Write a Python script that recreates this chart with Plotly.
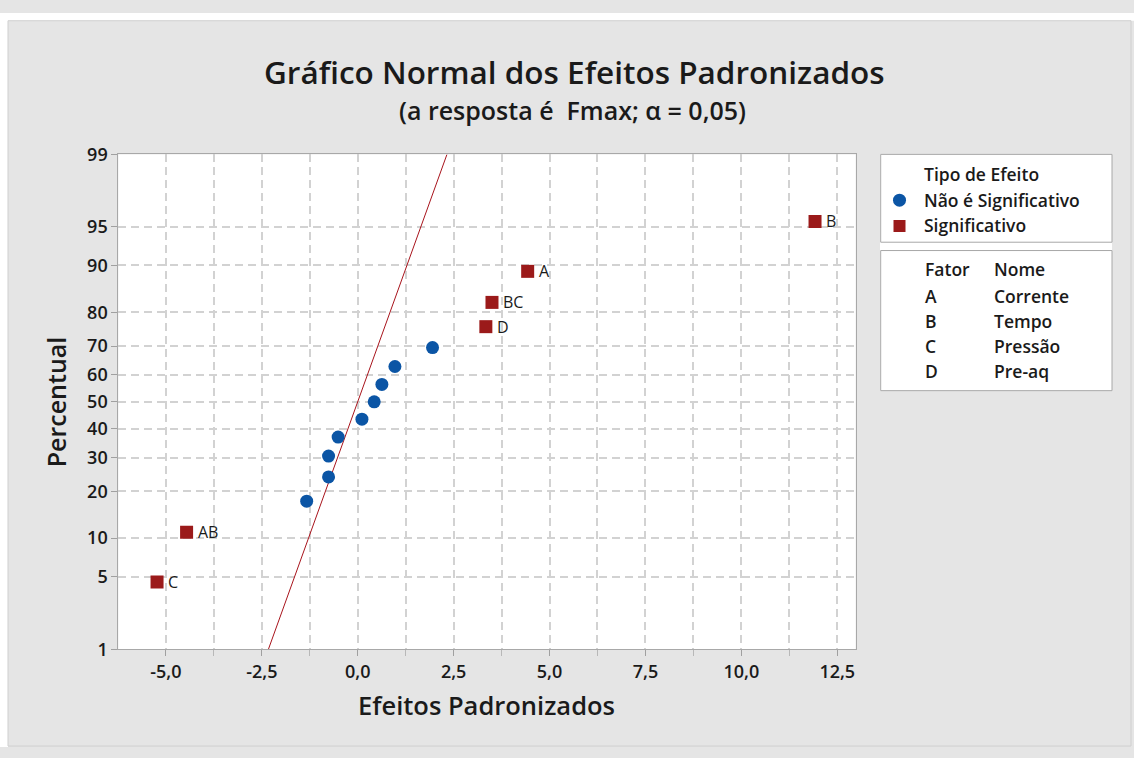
import plotly.graph_objects as go
from statistics import NormalDist

W, H = 1134, 758
nd = NormalDist()

# Efeitos significativos (alpha = 0,05)
sig_names = ["C", "AB", "D", "BC", "A", "B"]
sig_effects = [-5.23, -4.46, 3.34, 3.50, 4.43, 11.92]
sig_pct = [4.5, 11.0, 76.0, 82.5, 89.0, 95.5]

# Efeitos não significativos
nsig_effects = [-1.33, -0.76, -0.76, -0.51, 0.11, 0.43, 0.63, 0.97, 1.95]
nsig_pct = [17.5, 24.0, 30.5, 37.0, 43.5, 50.0, 56.5, 63.0, 69.5]

# Reta de referência N(0,1)
ref_pct = [1, 99]

y_tick_pct = [1, 5, 10, 20, 30, 40, 50, 60, 70, 80, 90, 95, 99]
x_tick_vals = [-5.0, -2.5, 0.0, 2.5, 5.0, 7.5, 10.0, 12.5]
x_tick_text = ["-5,0", "-2,5", "0,0", "2,5", "5,0", "7,5", "10,0", "12,5"]

factors = ["A", "B", "C", "D"]
factor_names = ["Corrente", "Tempo", "Pressão", "Pre-aq"]

BLUE = "#0b55a5"
RED = "#9b1a1a"
LINE_RED = "#a8141c"
TXT = "#1a1a1a"
GRID = "#d2d2d2"
BG = "#e5e5e5"
FONT = "Open Sans"


def probit(p):
    return nd.inv_cdf(p / 100.0)


def px(x):
    return x / W


def py(y):
    return 1 - y / H


fig = go.Figure()

# reta de referência
fig.add_trace(go.Scatter(
    x=[probit(p) for p in ref_pct], y=[probit(p) for p in ref_pct],
    mode="lines", line=dict(color=LINE_RED, width=1), showlegend=False,
    hoverinfo="skip",
))

fig.add_trace(go.Scatter(
    x=nsig_effects, y=[probit(p) for p in nsig_pct],
    mode="markers", marker=dict(symbol="circle", size=13, color=BLUE),
    showlegend=False,
))

fig.add_trace(go.Scatter(
    x=sig_effects, y=[probit(p) for p in sig_pct],
    mode="markers", marker=dict(symbol="square", size=13, color=RED),
    showlegend=False,
))

# marcadores da legenda (eixo auxiliar em coordenadas de pixel)
fig.add_trace(go.Scatter(
    x=[899.5], y=[193.3], xaxis="x2", yaxis="y2", mode="markers",
    marker=dict(symbol="circle", size=13, color=BLUE), showlegend=False,
    hoverinfo="skip",
))
fig.add_trace(go.Scatter(
    x=[899.5], y=[220.0], xaxis="x2", yaxis="y2", mode="markers",
    marker=dict(symbol="square", size=12, color=RED), showlegend=False,
    hoverinfo="skip",
))

x_left, x_right = 118.3, 855.7
y_top, y_bot = 146.0, 657.0

fig.update_layout(
    width=W, height=H,
    margin=dict(l=0, r=0, t=0, b=0, pad=0),
    paper_bgcolor=BG, plot_bgcolor="white",
    font=dict(family=FONT, color=TXT),
    xaxis=dict(
        domain=[px(x_left), px(x_right)], range=[-6.24, 12.98],
        tickvals=x_tick_vals, ticktext=x_tick_text,
        tickfont=dict(family=FONT, size=18, color=TXT, weight=600),
        ticks="outside", ticklen=6, tickcolor="#a0a0a0",
        showgrid=True, gridcolor=GRID, gridwidth=1.5, griddash="8px,5px",
        minor=dict(dtick=1.25, tick0=0, ticks="outside", ticklen=6,
                   tickcolor="#b8b8b8", showgrid=True, gridcolor=GRID,
                   gridwidth=1.5, griddash="8px,5px"),
        showline=True, linecolor="#a8a8a8", linewidth=1, mirror=True,
        zeroline=False,
    ),
    yaxis=dict(
        domain=[py(y_bot), py(y_top)], range=[probit(1), probit(99)],
        tickvals=[probit(p) for p in y_tick_pct],
        ticktext=[str(p) for p in y_tick_pct],
        tickfont=dict(family=FONT, size=18, color=TXT, weight=600),
        ticks="outside", ticklen=6, tickcolor="#a0a0a0",
        showgrid=True, gridcolor=GRID, gridwidth=1.5, griddash="8px,5px",
        showline=True, linecolor="#a8a8a8", linewidth=1, mirror=True,
        zeroline=False,
    ),
    xaxis2=dict(domain=[px(880), px(1112)], range=[880, 1112], visible=False,
                anchor="y2", fixedrange=True),
    yaxis2=dict(domain=[py(390), py(146)], range=[390, 146], visible=False,
                anchor="x2", fixedrange=True),
)

shapes = [
    # moldura branca externa
    dict(type="rect", xref="paper", yref="paper", x0=0, x1=1, y0=py(8), y1=1,
         fillcolor="white", line=dict(width=0), layer="above"),
    dict(type="rect", xref="paper", yref="paper", x0=0, x1=px(8), y0=0, y1=1,
         fillcolor="white", line=dict(width=0), layer="above"),
    dict(type="rect", xref="paper", yref="paper", x0=px(8), x1=px(1131), y0=py(757), y1=py(8),
         fillcolor="rgba(0,0,0,0)", line=dict(color="#cfcfcf", width=1), layer="above"),
    # caixas da legenda
    dict(type="rect", xref="paper", yref="paper", x0=px(880.7), x1=px(1112), y0=py(236.7), y1=py(146),
         fillcolor="white", line=dict(color="#a8a8a8", width=1), layer="below"),
    dict(type="rect", xref="paper", yref="paper", x0=px(880.7), x1=px(1112), y0=py(390), y1=py(245.3),
         fillcolor="white", line=dict(color="#a8a8a8", width=1), layer="below"),
]
fig.update_layout(shapes=shapes)

ann = []

# rótulos dos efeitos significativos
for name, eff, pct in zip(sig_names, sig_effects, sig_pct):
    ann.append(dict(x=eff, y=probit(pct), xref="x", yref="y", text=name,
                    showarrow=False, xanchor="left", yanchor="middle", xshift=9,
                    font=dict(family=FONT, size=16, color=TXT)))


def text(x, y, s, size, xanchor="left", weight=600, angle=0):
    ann.append(dict(x=px(x), y=py(y), xref="paper", yref="paper", text=s,
                    showarrow=False, xanchor=xanchor, yanchor="middle",
                    textangle=angle,
                    font=dict(family=FONT, size=size, color=TXT, weight=weight)))


text(574, 60, "Gráfico Normal dos Efeitos Padronizados", 31.5, "center")
text(572, 100, "(a resposta é  Fmax; α = 0,05)", 25, "center")
text(486, 715, "Efeitos Padronizados", 25.5, "center")
text(56, 402, "Percentual", 25, "center", angle=-90)

text(922, 166, "Tipo de Efeito", 17.5)
text(922, 193.3, "Não é Significativo", 17.5)
text(922, 219.3, "Significativo", 17.5)

text(923, 264.3, "Fator", 17.5)
text(992, 264.3, "Nome", 17.5)
row_y = [292.7, 318.3, 344.0, 370.0]
for f, n, yy in zip(factors, factor_names, row_y):
    text(923, yy, f, 17.5)
    text(992, yy, n, 17.5)

fig.update_layout(annotations=ann)

fig.write_html("out.html")
